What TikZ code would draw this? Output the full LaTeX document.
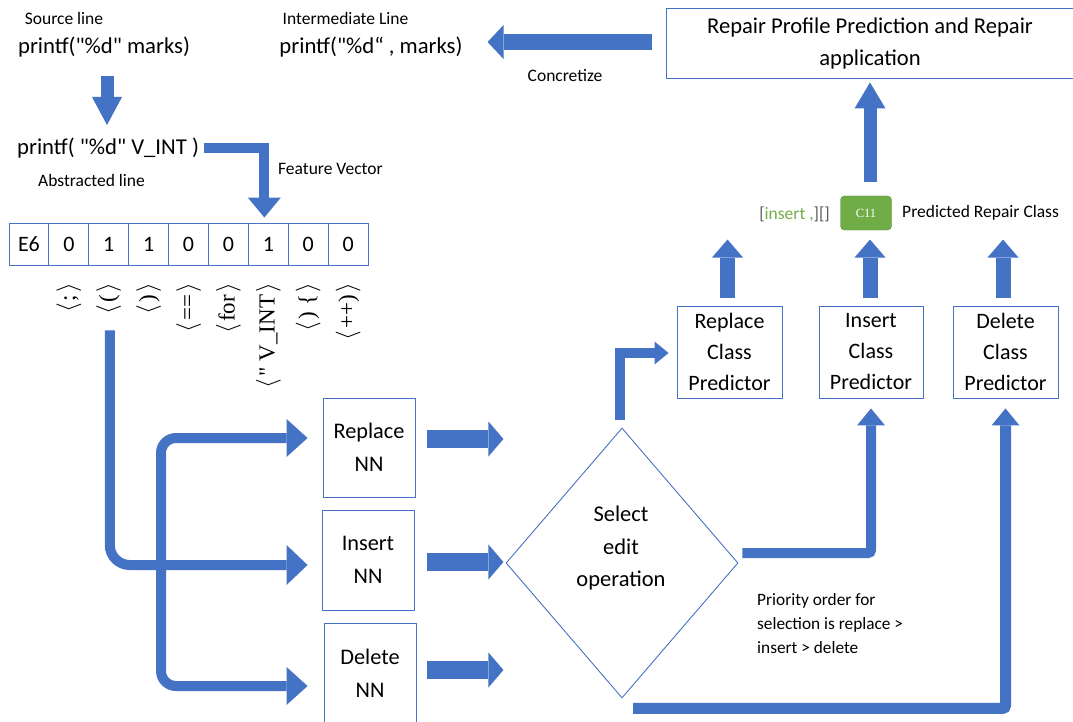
\documentclass[tikz,border=0pt]{standalone}
\usepackage{fontspec}
\setmainfont{Carlito}[Ligatures=TeXOff]
\newfontfamily\serfont{Liberation Serif}[Ligatures=TeXOff]
\usetikzlibrary{arrows.meta,shapes.geometric,calc}
\definecolor{ablue}{HTML}{4472C4}
\definecolor{bline}{HTML}{4472C4}
\definecolor{cgreen}{HTML}{70AD47}
\definecolor{tgray}{HTML}{595959}
\newcommand\lab[1]{$\langle$\kern2pt#1\kern2pt$\rangle$}
\begin{document}
\begin{tikzpicture}[x=1pt,y=-1pt,
  txt/.style={inner sep=0pt, font=\fontsize{22.7}{28}\selectfont},
  small/.style={inner sep=0pt, font=\fontsize{17.5}{22}\selectfont},
  box/.style={draw=bline, line width=0.9pt, align=center, inner sep=0pt, font=\fontsize{22}{31}\selectfont},
  cell/.style={draw=bline, line width=0.9pt, minimum width=39.9pt, minimum height=42pt, inner sep=0pt, font=\fontsize{22}{26}\selectfont},
  vlab/.style={rotate=90, anchor=east, inner sep=0pt, font=\serfont\fontsize{23}{27}\selectfont},
  blk/.style n args={4}{draw=ablue, line width=#1, -{Triangle[width=#2,length=#3,line width=0pt]}, rounded corners=#4},
]
\useasboundingbox (0,0) rectangle (1073,722);
% texts
\node[small] (srclbl) at (64,18) {Source line};
\node[txt] (src) at (104,47) {printf("\%d" marks)};
\node[small] (intlbl) at (345.5,18) {Intermediate Line};
\node[txt] (inter) at (371,47) {printf("\%d“ , marks)};
\node[box, minimum width=408pt, minimum height=70pt, font=\fontsize{22.6}{32}\selectfont] (rep) at (870,43) {Repair Profile Prediction and Repair\\application};
\node[small] (concr) at (565,76) {Concretize};
\node[txt, anchor=west] (abs) at (17,148) {printf( "\%d" V\_INT )};
\node[small] (abslbl) at (91.5,180) {Abstracted line};
\node[small, anchor=west] (fv) at (278,169) {Feature Vector};
% feature vector
\foreach \v [count=\i from 0] in {E6,0,1,1,0,0,1,0,0}
  \node[cell] (c\i) at ({9+39.9*(\i+0.5)},244) {\v};
\foreach \t [count=\i] in {{\lab{;}},{\lab{(}},{\lab{)}},{\lab{==}},{\lab{for}},{\lab{" V\_INT}},{\lab{) \{}},{\lab{++)}}}
  \node[vlab] (l\i) at ({9+39.9*(\i+0.5)},283) {\t};
% NN boxes
\node[box, minimum width=92pt, minimum height=99pt, font=\fontsize{22.3}{33}\selectfont] (rnn) at (369,447.5) {Replace\\NN};
\node[box, minimum width=92pt, minimum height=100pt, font=\fontsize{22.3}{33}\selectfont] (inn) at (368,560) {Insert\\NN};
\node[box, minimum width=92pt, minimum height=100pt, font=\fontsize{22.3}{33}\selectfont] (dnn) at (370,673) {Delete\\NN};
% diamond
\node[diamond, draw=bline, line width=0.9pt, minimum width=232pt, minimum height=270pt, inner sep=0pt] (sel) at (622,563) {};
\node[box, draw=none, font=\fontsize{22.5}{32.5}\selectfont] (seltxt) at (621,548) {Select\\edit\\operation};
% class predictors
\node[box, minimum width=105pt, minimum height=92pt] (rcp) at (729.5,352) {Replace\\Class\\Predictor};
\node[box, minimum width=104pt, minimum height=92pt] (icp) at (871,352) {Insert\\Class\\Predictor};
\node[box, minimum width=105pt, minimum height=92pt] (dcp) at (1005.5,352) {Delete\\Class\\Predictor};
% C11
\node[draw=cgreen!80!black, fill=cgreen, rounded corners=4pt, minimum width=51pt, minimum height=34pt, inner sep=0pt, text=white, font=\serfont\fontsize{12.5}{14}\selectfont] (c11) at (866,213) {C11};
\node[small, anchor=east] (ins) at (830,214) {\textcolor{tgray}{[}\textcolor{cgreen}{insert ,}\textcolor{tgray}{][]}};
\node[small, anchor=west] (prc) at (902,213) {Predicted Repair Class};
\node[font=\fontsize{17.3}{24}\selectfont, align=left, anchor=west, inner sep=0pt] (prio) at (757,624) {Priority order for\\selection is replace >\\insert > delete};
% arrows
\draw[blk={16pt}{34pt}{16pt}{0pt}] (rep.west) ++(-14,-1) -- ++(-164,0);
\draw[blk={13pt}{30pt}{28pt}{0pt}] (src.center) ++(3,29) -- ++(0,49);
\draw[blk={10pt}{33pt}{20pt}{0pt}] ($(abs.east)+(5,0)$) -| ($(c6.north)+(-4,-5)$);
\draw[blk={10pt}{40pt}{21pt}{20pt}] ($(c2.south)+(1,65)$) |- ($(inn.west)+(-14,5)$);
\draw[draw=ablue, line width=10pt, rounded corners=15pt, {Triangle[width=38pt,length=21pt,line width=0pt]}-{Triangle[width=38pt,length=21pt,line width=0pt]}] ($(rnn.west)+(-15,-9.5)$) -| ($(inn.west -| 161,0)$) |- ($(dnn.west)+(-16,13)$);
\draw[blk={18pt}{35pt}{15pt}{0pt}] ($(rnn.east)+(12,-8.5)$) -- ++(76,0);
\draw[blk={18pt}{35pt}{15pt}{0pt}] ($(inn.east)+(13,2)$) -- ++(76,0);
\draw[blk={18pt}{35pt}{15pt}{0pt}] ($(dnn.east)+(11,-3)$) -- ++(76,0);
\draw[blk={10pt}{23pt}{14pt}{0pt}] ($(sel.north)+(-2,-8)$) |- ($(rcp.west)+(-8,1)$);
\draw[blk={10pt}{28pt}{17pt}{3pt}] ($(sel.east)+(4,-10)$) -| ($(icp.south)+(0,10)$);
\draw[blk={11pt}{28pt}{17pt}{3pt}] ($(sel.south)+(11,10)$) -| ($(dcp.south)+(0,10)$);
\draw[blk={15pt}{31pt}{18pt}{0pt}] ($(rcp.north)+(-2,-8)$) -- ++(0,-58);
\draw[blk={15pt}{31pt}{18pt}{0pt}] ($(icp.north)+(-1,-8)$) -- ++(0,-58);
\draw[blk={15pt}{31pt}{18pt}{0pt}] ($(dcp.north)+(-2.5,-8)$) -- ++(0,-58);
\draw[blk={13pt}{31pt}{26pt}{0pt}] ($(c11.north)+(4,-14)$) -- ($(rep.south)+(0,4)$);
\end{tikzpicture}
\end{document}
